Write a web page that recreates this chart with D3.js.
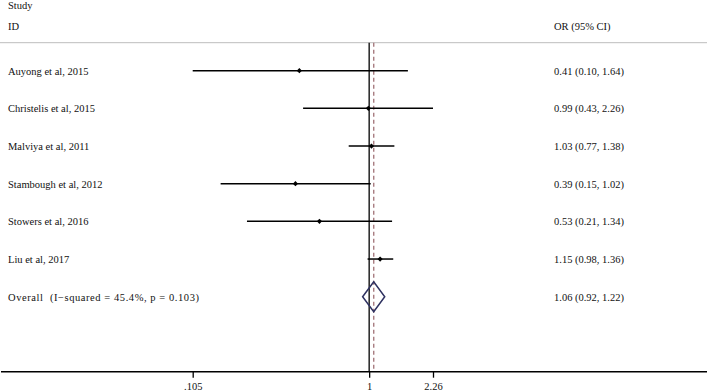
<!DOCTYPE html>
<html>
<head>
<meta charset="utf-8">
<script src="https://cdn.jsdelivr.net/npm/d3@7/dist/d3.min.js"></script>
<style>
  html, body { margin: 0; padding: 0; background: #fff; }
  svg { display: block; }
  text { font-family: "Liberation Serif", "Times New Roman", serif; font-size: 10.5px; fill: #111; white-space: pre; }
</style>
</head>
<body>
<svg id="chart" width="709" height="391"></svg>
<script>
const studies = ["Auyong et al, 2015", "Christelis et al, 2015", "Malviya et al, 2011",
                 "Stambough et al, 2012", "Stowers et al, 2016", "Liu et al, 2017"];
const orValues = [0.41, 0.99, 1.03, 0.39, 0.53, 1.15];
const lowerCI  = [0.105, 0.43, 0.77, 0.15, 0.21, 0.98];
const upperCI  = [1.64, 2.26, 1.38, 1.02, 1.34, 1.36];
const ciLabels = ["0.41 (0.10, 1.64)", "0.99 (0.43, 2.26)", "1.03 (0.77, 1.38)",
                  "0.39 (0.15, 1.02)", "0.53 (0.21, 1.34)", "1.15 (0.98, 1.36)"];
const overallLabel = "Overall  (I\u2212squared = 45.4%, p = 0.103)";
const overall = { or: 1.06, lo: 0.92, hi: 1.22, text: "1.06 (0.92, 1.22)" };
const tickValues = [0.105, 1, 2.26];
const tickLabels = [".105", "1", "2.26"];

const svg = d3.select("#chart");
const x = d3.scaleLog().domain([0.105, 2.26]).range([192.7, 433]);
const y = d3.scaleLinear().domain([0, 6]).range([70.7, 296.7]);
const axisY = 371.7, headerY = 42.7;

// headers
svg.append("text").attr("x", 8).attr("y", 9).text("Study");
svg.append("text").attr("x", 8).attr("y", 30).text("ID");
svg.append("text").attr("x", 554).attr("y", 30).text("OR (95% CI)");
svg.append("line").attr("x1", 0).attr("x2", 707).attr("y1", headerY).attr("y2", headerY)
   .attr("stroke", "#bdbdbd").attr("stroke-width", 1);

// null line and overall dashed line
svg.append("line").attr("x1", x(1)).attr("x2", x(1)).attr("y1", headerY).attr("y2", axisY)
   .attr("stroke", "#000").attr("stroke-width", 1.3);
svg.append("line").attr("x1", x(overall.or)).attr("x2", x(overall.or)).attr("y1", headerY).attr("y2", axisY)
   .attr("stroke", "#a87c80").attr("stroke-width", 1.4).attr("stroke-dasharray", "4,3");

const rows = studies.map((s, i) => ({ s, or: orValues[i], lo: lowerCI[i], hi: upperCI[i], t: ciLabels[i], i }));

// CI lines
svg.selectAll(".ci").data(rows).enter().append("line")
   .attr("x1", d => x(d.lo)).attr("x2", d => x(d.hi))
   .attr("y1", d => y(d.i)).attr("y2", d => y(d.i))
   .attr("stroke", "#000").attr("stroke-width", 1.5);
// point markers (small diamonds)
svg.selectAll(".pt").data(rows).enter().append("path")
   .attr("d", d => { const cx = x(d.or), cy = y(d.i), r = 2.6;
      return `M${cx},${cy - r}L${cx + r},${cy}L${cx},${cy + r}L${cx - r},${cy}Z`; })
   .attr("fill", "#000");

// labels
svg.selectAll(".lab").data(rows).enter().append("text")
   .attr("x", 8).attr("y", d => y(d.i) + 3.8).text(d => d.s);
svg.selectAll(".est").data(rows).enter().append("text")
   .attr("x", 554).attr("y", d => y(d.i) + 3.8).text(d => d.t);

// overall
const oy = y(6);
svg.append("text").attr("x", 8).attr("y", oy + 3.8)
   .attr("textLength", 191).attr("lengthAdjust", "spacing").text(overallLabel);
svg.append("text").attr("x", 554).attr("y", oy + 3.8).text(overall.text);
svg.append("path")
   .attr("d", `M${x(overall.lo)},${oy}L${x(overall.or)},${oy - 15}L${x(overall.hi)},${oy}L${x(overall.or)},${oy + 15}Z`)
   .attr("fill", "none").attr("stroke", "#2e3160").attr("stroke-width", 1.5);

// axis
svg.append("line").attr("x1", 1).attr("x2", 707).attr("y1", axisY).attr("y2", axisY)
   .attr("stroke", "#000").attr("stroke-width", 1.6);
const axis = d3.axisBottom(x).tickValues(tickValues).tickFormat((d, i) => tickLabels[i]).tickSize(6).tickSizeOuter(0);
const g = svg.append("g").attr("transform", `translate(0,${axisY})`).call(axis);
g.select(".domain").remove();
g.selectAll(".tick line").attr("stroke", "#000").attr("stroke-width", 1.3);
g.selectAll(".tick text").attr("dy", null).attr("y", 18.5)
  .style("font-family", '"Liberation Serif", serif').style("font-size", "10.5px").attr("fill", "#111");
</script>
</body>
</html>
